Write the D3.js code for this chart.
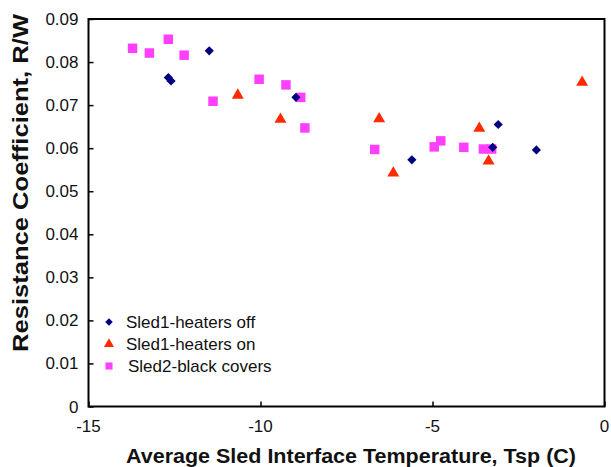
<!DOCTYPE html>
<html>
<head>
<meta charset="utf-8">
<script src="https://cdn.jsdelivr.net/npm/d3@7"></script>
<style>
  body { margin: 0; background: #fff; }
  text { font-family: Arial, "Liberation Sans", sans-serif; fill: #111; }
</style>
</head>
<body>
<svg id="chart" width="611" height="467"></svg>
<script>
// Sled1 - heaters off
const heatersOffX = [-11.49, -12.68, -12.60, -8.97, -3.09, -5.60, -3.25, -1.98];
const heatersOffY = [0.0826, 0.0764, 0.0756, 0.0718, 0.0655, 0.0573, 0.0602, 0.0596];
// Sled1 - heaters on
const heatersOnX = [-10.66, -9.42, -0.65, -6.55, -3.64, -6.14, -3.37];
const heatersOnY = [0.0723, 0.0667, 0.0753, 0.0668, 0.0646, 0.0542, 0.0570];
// Sled2 - black covers
const coversX = [-13.72, -13.23, -12.68, -12.22, -11.38, -10.04, -9.26, -8.83, -8.71,
                 -6.68, -4.95, -4.76, -4.09, -3.52, -3.28];
const coversY = [0.0832, 0.0821, 0.0853, 0.0816, 0.0709, 0.0760, 0.0747, 0.0718, 0.0647,
                 0.0597, 0.0603, 0.0617, 0.0602, 0.0598, 0.0598];

const xTicks = [-15, -10, -5, 0];
const yTicks = [0, 0.01, 0.02, 0.03, 0.04, 0.05, 0.06, 0.07, 0.08, 0.09];
const seriesNames = ['Sled1-heaters off', 'Sled1-heaters on', 'Sled2-black covers'];

const svg = d3.select('#chart');
const margin = { left: 88.5, right: 6.5, top: 19, bottom: 60.5 };
const width = 611, height = 467;

const x = d3.scaleLinear().domain([-15, 0]).range([margin.left, width - margin.right]);
const y = d3.scaleLinear().domain([0, 0.09]).range([height - margin.bottom, margin.top]);

// frame
svg.append('rect')
  .attr('x', x(-15)).attr('y', y(0.09))
  .attr('width', x(0) - x(-15)).attr('height', y(0) - y(0.09))
  .attr('fill', 'none').attr('stroke', '#000').attr('stroke-width', 2);

// axes, ticks pointing inward
const xAxis = svg.append('g')
  .attr('transform', `translate(0,${y(0)})`)
  .call(d3.axisTop(x).tickValues(xTicks).tickSize(5).tickFormat(''));
xAxis.select('.domain').remove();
xAxis.selectAll('line').attr('stroke-width', 1.5);

svg.selectAll('.xlab')
  .data(xTicks)
  .enter()
  .append('text')
  .attr('x', (d) => x(d))
  .attr('y', y(0) + 25)
  .attr('text-anchor', 'middle')
  .style('font-size', '17px')
  .text((d) => d);

const yAxis = svg.append('g')
  .attr('transform', `translate(${x(-15)},0)`)
  .call(d3.axisRight(y).tickValues(yTicks).tickSize(5).tickFormat(''));
yAxis.select('.domain').remove();
yAxis.selectAll('line').attr('stroke-width', 1.5);

svg.selectAll('.ylab')
  .data(yTicks)
  .enter()
  .append('text')
  .attr('x', x(-15) - 10)
  .attr('y', (d) => y(d) + 6)
  .attr('text-anchor', 'end')
  .style('font-size', '17px')
  .text((d) => d === 0 ? '0' : d.toFixed(2));

// axis titles
svg.append('text')
  .attr('x', 351)
  .attr('y', 463)
  .attr('text-anchor', 'middle')
  .style('font-size', '21px')
  .style('font-weight', 'bold')
  .attr('textLength', 450)
  .attr('lengthAdjust', 'spacingAndGlyphs')
  .text('Average Sled Interface Temperature, Tsp (C)');

svg.append('text')
  .attr('transform', 'translate(28,183) rotate(-90)')
  .attr('text-anchor', 'middle')
  .style('font-size', '22px')
  .style('font-weight', 'bold')
  .attr('textLength', 338)
  .attr('lengthAdjust', 'spacingAndGlyphs')
  .text('Resistance Coefficient, R/W');

// markers
const diamond = d3.symbol().type(d3.symbolSquare).size(42);
const triangle = d3.symbol().type(d3.symbolTriangle).size(62);
const square = d3.symbol().type(d3.symbolSquare).size(90);

svg.append('g').selectAll('path')
  .data(d3.range(coversX.length))
  .enter()
  .append('path')
  .attr('d', square)
  .attr('transform', (i) => `translate(${x(coversX[i])},${y(coversY[i])})`)
  .attr('fill', '#ff3fff');

svg.append('g').selectAll('path')
  .data(d3.range(heatersOnX.length))
  .enter()
  .append('path')
  .attr('d', triangle)
  .attr('transform', (i) => `translate(${x(heatersOnX[i])},${y(heatersOnY[i])})`)
  .attr('fill', '#ff2a00');

svg.append('g').selectAll('path')
  .data(d3.range(heatersOffX.length))
  .enter()
  .append('path')
  .attr('d', diamond)
  .attr('transform', (i) => `translate(${x(heatersOffX[i])},${y(heatersOffY[i])}) rotate(45)`)
  .attr('fill', '#000080');

// legend
const legend = svg.append('g').attr('transform', 'translate(109,322)');
const legendSymbols = [
  { sym: d3.symbol().type(d3.symbolSquare).size(28), rot: 45, color: '#000080' },
  { sym: d3.symbol().type(d3.symbolTriangle).size(44), rot: 0, color: '#ff2a00' },
  { sym: d3.symbol().type(d3.symbolSquare).size(50), rot: 0, color: '#ff3fff' }
];
const rowY = [0, 22, 44];
seriesNames.forEach((name, i) => {
  legend.append('path')
    .attr('d', legendSymbols[i].sym)
    .attr('transform', `translate(0,${rowY[i]}) rotate(${legendSymbols[i].rot})`)
    .attr('fill', legendSymbols[i].color);
  legend.append('text')
    .attr('x', i === 2 ? 19 : 17)
    .attr('y', rowY[i] + 6)
    .style('font-size', '17px')
    .text(name);
});
</script>
</body>
</html>
